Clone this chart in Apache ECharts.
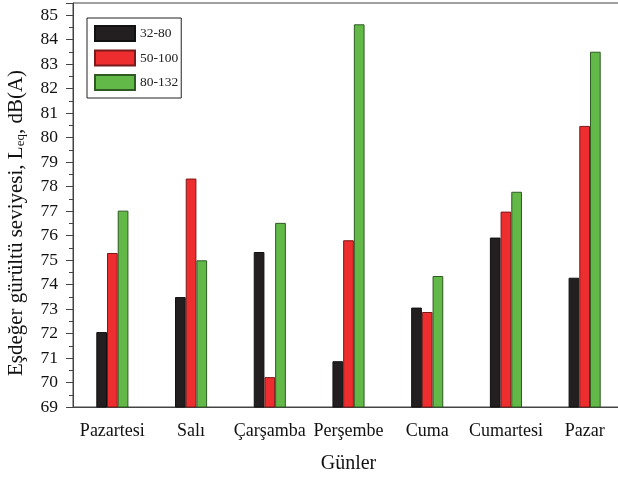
<!DOCTYPE html>
<html>
<head>
<meta charset="utf-8">
<script src="https://cdn.jsdelivr.net/npm/echarts@6/dist/echarts.min.js"></script>
<style>html,body{margin:0;padding:0;background:#fff;overflow:hidden}#c{width:618px;height:480px}</style>
</head>
<body>
<div id="c"></div>
<script>
const categories = ['Pazartesi', 'Salı', 'Çarşamba', 'Perşembe', 'Cuma', 'Cumartesi', 'Pazar'];
const seriesNames = ['32-80', '50-100', '80-132'];
const s3280 = [72.06, 73.49, 75.33, 70.87, 73.06, 75.92, 74.28];
const s50100 = [75.29, 78.33, 70.22, 75.81, 72.88, 76.98, 80.48];
const s80132 = [77.02, 74.99, 76.52, 84.63, 74.35, 77.79, 83.51];
const yMin = 69, yMax = 85.5, yStep = 1;

const font = '"Liberation Serif", "Times New Roman", serif';
const colors = ['#231f20', '#ee2d2f', '#62b947'];
const borders = ['#111', '#7a1a1a', '#2f5a24'];
const chart = echarts.init(document.getElementById('c'));
const mk = (name, data, i) => ({
  name, type: 'bar', data, barWidth: 10.7, barGap: '0%',
  itemStyle: { color: colors[i], borderColor: borders[i], borderWidth: 1 }
});
chart.setOption({
  animation: false,
  textStyle: { fontFamily: font },
  grid: { left: 73, width: 551, top: 3, height: 404, outerBoundsMode: 'none', containLabel: false, show: true, borderColor: '#444', borderWidth: 1, backgroundColor: 'transparent' },
  legend: {
    orient: 'vertical', left: 87, top: 18,
    icon: 'rect',
    itemWidth: 40, itemHeight: 15, itemGap: 7.5,
    padding: [7, 3, 7, 7],
    borderColor: '#222', borderWidth: 1,
    textStyle: { fontFamily: font, fontSize: 13.5, color: '#222' },
    data: seriesNames
  },
  xAxis: [{
    type: 'category', data: categories,
    name: 'Günler', nameLocation: 'middle', nameGap: 47,
    nameTextStyle: { fontFamily: font, fontSize: 20, color: '#111' },
    axisLine: { lineStyle: { color: '#444' } },
    axisTick: { alignWithLabel: true, length: 9, lineStyle: { color: '#444' } },
    axisLabel: { interval: 0, fontFamily: font, fontSize: 18, color: '#111', margin: 15 }
  }, {
    type: 'category', data: categories, position: 'bottom',
    axisLine: { show: false },
    axisTick: { interval: 0, length: 4, lineStyle: { color: '#444' } },
    axisLabel: { show: false }
  }],
  yAxis: {
    type: 'value', min: yMin, max: yMax, interval: yStep,
    name: '{a|Eşdeğer gürültü seviyesi, L}{s|eq}{a|, dB(A)}',
    nameLocation: 'middle', nameGap: 46,
    nameTextStyle: {
      padding: [0, 36, 0, 0],
      rich: {
        a: { fontFamily: font, fontSize: 21, color: '#111' },
        s: { fontFamily: font, fontSize: 13, color: '#111', verticalAlign: 'bottom', padding: [9, 0, 0, 0] }
      }
    },
    axisLine: { show: true, lineStyle: { color: '#444' } },
    axisTick: { show: true, length: 7, lineStyle: { color: '#444' } },
    minorTick: { show: true, splitNumber: 2, length: 4, lineStyle: { color: '#444' } },
    splitLine: { show: false },
    axisLabel: {
      fontFamily: font, fontSize: 17.5, color: '#111', margin: 15,
      formatter: v => (Math.abs(v - Math.round(v)) < 1e-6 ? String(Math.round(v)) : '')
    }
  },
  series: [mk(seriesNames[0], s3280, 0), mk(seriesNames[1], s50100, 1), mk(seriesNames[2], s80132, 2)]
});
</script>
</body>
</html>
